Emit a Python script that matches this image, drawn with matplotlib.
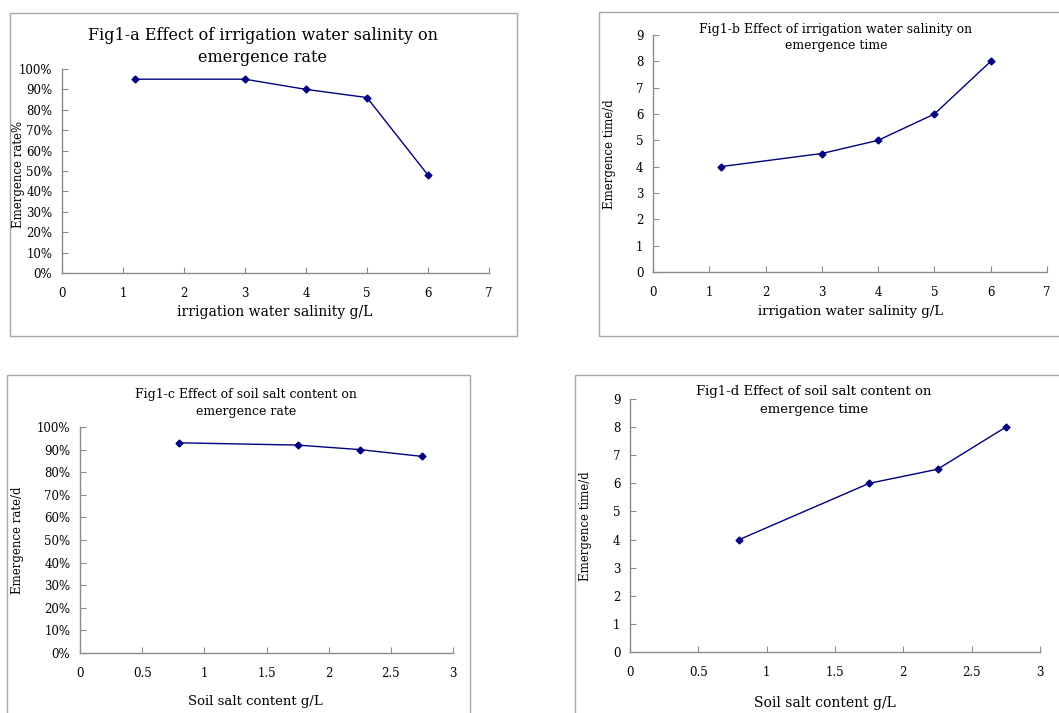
import matplotlib
matplotlib.use("Agg")
import matplotlib.pyplot as plt
from matplotlib.patches import Rectangle
from matplotlib.ticker import PercentFormatter

plt.rcParams['font.family'] = ['DejaVu Serif']

# data
salinity = [1.2, 3, 4, 5, 6]
rate_a = [95, 95, 90, 86, 48]
time_b = [4, 4.5, 5, 6, 8]

soil_salt = [0.8, 1.75, 2.25, 2.75]
rate_c = [93, 92, 90, 87]
time_d = [4, 6, 6.5, 8]

W, H = 1059, 713
fig = plt.figure(figsize=(W / 100, H / 100), dpi=100)

NAVY = '#000080'
GREY = '#8c8c8c'


def px_axes(l, t, r, b):
    return fig.add_axes([l / W, 1 - b / H, (r - l) / W, (b - t) / H])


def box(l, t, r, b):
    fig.patches.append(Rectangle((l / W, 1 - b / H), (r - l) / W, (b - t) / H,
                                 transform=fig.transFigure, fill=False,
                                 edgecolor='#a6a6a6', lw=1.0))


def ftext(x, y, s, size, **kw):
    fig.text(x / W, 1 - y / H, s, fontsize=size, ha='center', va='center', **kw)


def style(ax, fs):
    for s in ['top', 'right']:
        ax.spines[s].set_visible(False)
    for s in ['left', 'bottom']:
        ax.spines[s].set_color(GREY)
        ax.spines[s].set_linewidth(1.0)
    ax.tick_params(axis='both', direction='in', length=4, color=GREY,
                   labelsize=fs, labelcolor='black')
    ax.tick_params(axis='y', pad=7)
    ax.tick_params(axis='x', pad=10)
    ax.set_facecolor('none')


# boxes around each chart
box(10, 13, 517, 336)
box(599, 12, 1070, 336)
box(7, 375, 470, 720)
box(575, 375, 1070, 720)

# a
ax = px_axes(62, 69, 489, 273)
ax.plot(salinity, rate_a, color=NAVY, lw=1, marker='D', ms=3.5)
ax.set_xlim(0, 7)
ax.set_ylim(0, 100)
ax.set_yticks(range(0, 101, 10))
ax.yaxis.set_major_formatter(PercentFormatter(decimals=0))
style(ax, 8.5)
ftext(263, 36, 'Fig1-a Effect of irrigation water salinity on', 11.5)
ftext(263, 58, 'emergence rate', 11.5)
ftext(275, 312, 'irrigation water salinity g/L', 10)
ftext(19, 174, 'Emergence rate%', 8.5, rotation=90)

# b
ax = px_axes(653, 35, 1047, 272)
ax.plot(salinity, time_b, color=NAVY, lw=1, marker='D', ms=3.5)
ax.set_xlim(0, 7)
ax.set_ylim(0, 9)
ax.set_yticks(range(0, 10))
style(ax, 8.5)
ftext(836, 30, 'Fig1-b Effect of irrigation water salinity on', 9)
ftext(836, 46, 'emergence time', 9)
ftext(851, 312, 'irrigation water salinity g/L', 9.5)
ftext(610, 154, 'Emergence time/d', 8.5, rotation=90)

# c
ax = px_axes(80, 427, 453, 653)
ax.plot(soil_salt, rate_c, color=NAVY, lw=1, marker='D', ms=3.5)
ax.set_xlim(0, 3)
ax.set_ylim(0, 100)
ax.set_yticks(range(0, 101, 10))
ax.set_xticks([0, 0.5, 1, 1.5, 2, 2.5, 3])
ax.set_xticklabels(['0', '0.5', '1', '1.5', '2', '2.5', '3'])
ax.yaxis.set_major_formatter(PercentFormatter(decimals=0))
style(ax, 8.5)
ftext(246, 394, 'Fig1-c Effect of soil salt content on', 9)
ftext(246, 412, 'emergence rate', 9)
ftext(255, 702, 'Soil salt content g/L', 9.5)
ftext(18, 540, 'Emergence rate/d', 8.5, rotation=90)

# d
ax = px_axes(630, 399, 1040, 652)
ax.plot(soil_salt, time_d, color=NAVY, lw=1, marker='D', ms=3.5)
ax.set_xlim(0, 3)
ax.set_ylim(0, 9)
ax.set_yticks(range(0, 10))
ax.set_xticks([0, 0.5, 1, 1.5, 2, 2.5, 3])
ax.set_xticklabels(['0', '0.5', '1', '1.5', '2', '2.5', '3'])
style(ax, 8.5)
ftext(814, 392, 'Fig1-d Effect of soil salt content on', 9.5)
ftext(814, 410, 'emergence time', 9.5)
ftext(825, 703, 'Soil salt content g/L', 10)
ftext(585, 526, 'Emergence time/d', 8.5, rotation=90)

fig.savefig('out.png', dpi=100, facecolor='white')
